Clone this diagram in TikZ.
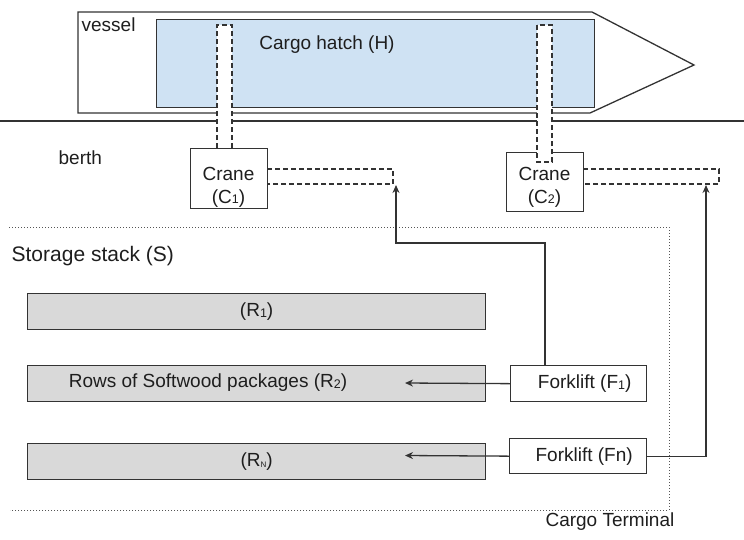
\documentclass[tikz,border=0pt]{standalone}
\usepackage{fontspec}
\setmainfont{Liberation Sans}
\usetikzlibrary{arrows.meta}
\definecolor{ink}{HTML}{333333}
\definecolor{txt}{HTML}{1E1E1E}
\definecolor{hatchblue}{HTML}{CFE2F3}
\definecolor{rowgrey}{HTML}{D9D9D9}
\definecolor{dotgrey}{HTML}{555555}
% small index digits and letters
\newcommand{\idx}[1]{\raisebox{-0.6pt}{\fontsize{12.5}{12.5}\selectfont #1}}
\newcommand{\tinyidx}[1]{\raisebox{-0.6pt}{\fontsize{8}{8}\selectfont #1}}
\begin{document}
\begin{tikzpicture}[x=1pt,y=-1pt,
  font=\fontsize{19}{23}\selectfont, text=txt, line width=1.3pt,
  box/.style={draw=ink, fill=white, inner sep=0pt},
  row/.style={draw=ink, fill=rowgrey, minimum width=458pt, minimum height=36pt, inner sep=0pt},
  dashline/.style={draw=ink, line width=1.2pt, dash pattern=on 5pt off 3pt},
  link/.style={draw=ink, line width=1.3pt, -{Stealth[length=8pt,width=7pt]}},
  term/.style={draw=dotgrey, line width=1pt, dash pattern=on 1pt off 2pt},
  lbl/.style={inner sep=0pt}]
\useasboundingbox (0,0) rectangle (744,539);

% vessel hull and hatch
\draw[ink] (78,12) -- (592,12) -- (694,65) -- (590,113) -- (78,113) -- cycle;
\node[lbl, anchor=west] (vessel) at (81,25) {vessel};
\node[draw=ink, fill=hatchblue, minimum width=438pt, minimum height=88pt,
      inner sep=0pt, anchor=north west] (hatch) at (156,19) {};
\node[lbl] (hatchlabel) at (327,45) {Cargo hatch (H)};

% berth edge
\draw[ink] (0,121) -- (744,121);
\node[lbl, anchor=west] (berth) at (58,158) {berth};

% crane 1 shaft, box and arm
\fill[white] (217,25) rectangle (232,148);
\draw[dashline] (217,148) -- (217,25) -- (232,25) -- (232,148);
\node[box, minimum width=77pt, minimum height=60pt, anchor=north west] (c1) at (190,148) {};
\node[lbl, align=center] (c1t) at (228.5,187) {Crane\\(C\idx{1})};
\draw[dashline] (267,169) -- (393,169) -- (393,184) -- (267,184);
\coordinate (hook1) at (396,185);

% crane 2 box, shaft and arm
\node[box, minimum width=77pt, minimum height=59pt, anchor=north west] (c2) at (506,152) {};
\fill[white] (537,25) rectangle (552,162);
\draw[dashline] (537,25) rectangle (552,162);
\node[lbl, align=center] (c2t) at (544.5,187) {Crane\\(C\idx{2})};
\draw[dashline] (583,169) -- (719,169) -- (719,184) -- (583,184);
\coordinate (hook2) at (706,185);

% cargo terminal boundary
\draw[term] (9,227) -- (669,227) -- (669,510) -- (10,510);
\node[lbl, anchor=west, font=\fontsize{21}{25}\selectfont] (stack) at (11,256) {Storage stack (S)};
\node[lbl, anchor=east] (terminal) at (675,522) {Cargo Terminal};

% rows of packages
\node[row, anchor=north west] (r1) at (27,293) {(R\idx{1})};
\node[row, anchor=north west] (r2) at (27,365) {};
\node[lbl] (r2t) at (208,383) {Rows of Softwood packages (R\idx{2})};
\node[row, anchor=north west] (rn) at (27,443) {(R\tinyidx{N})};

% forklifts
\node[box, minimum width=136pt, minimum height=36pt, anchor=north west] (f1) at (510,365)
  {\hspace*{12pt}Forklift (F\idx{1})};
\node[box, minimum width=137pt, minimum height=35pt, anchor=north west] (fn) at (509,438)
  {\hspace*{12pt}Forklift (Fn)};

\coordinate (r2tip) at (405,383);
\coordinate (rntip) at (405,455.5);

% transport links
\draw[link] (f1.west) -- (r2tip);
\draw[link] (fn.west) -- (rntip);
\draw[link] ([xshift=35pt]f1.north west) -- ++(0,-122) -| (hook1);
\draw[link] (fn.east) -| (hook2);
\end{tikzpicture}
\end{document}
